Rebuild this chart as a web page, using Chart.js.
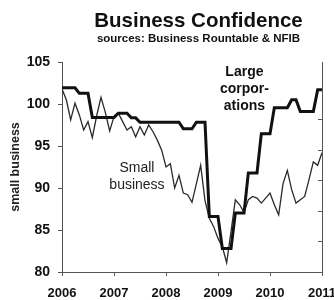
<!DOCTYPE html>
<html>
<head>
<meta charset="utf-8">
<title>Business Confidence</title>
<script src="https://cdn.jsdelivr.net/npm/chart.js@4.4.1/dist/chart.umd.min.js"></script>
<style>
body{margin:0;background:#fff;}
canvas{display:block;}
</style>
</head>
<body>
<canvas id="confChart" width="334" height="300"></canvas>
<script>
// DATA (monthly, Jan 2006 .. Jan 2011)
let yearLabels = ["2006","2007","2008","2009","2010","2011"];

// small business index (left axis)
let smallBusiness = [
101.8,100.5,98.1,100.1,98.7,96.9,97.9,96.0,98.6,100.8,99.0,96.8,
98.5,98.9,97.9,96.9,97.3,96.1,97.3,96.3,97.5,96.7,95.7,94.5,
92.5,92.9,90.0,91.5,89.4,89.2,88.3,90.5,92.7,88.5,86.4,85.4,
84.0,83.0,81.1,84.8,88.6,88.0,87.1,88.6,89.0,88.8,88.2,88.8,
89.4,88.0,86.8,90.5,92.1,89.8,88.2,88.6,89.0,91.0,93.1,92.7,
94.2
];

// large corporations outlook (right axis, unlabelled)
let largeCorps = [
101.1,101.1,101.1,101.1,97.4,97.4,97.4,81.6,81.6,81.6,81.6,81.6,
81.6,84.4,84.4,84.4,81.3,81.3,78.4,78.4,78.4,78.4,78.4,78.4,
78.4,78.4,78.4,78.4,74.1,74.1,74.1,78.4,78.4,78.4,16.5,16.5,
16.5,-4.6,-4.6,-4.6,18.7,18.7,18.7,45.1,45.1,45.1,70.8,70.8,
70.8,87.9,87.9,87.9,87.9,93.2,93.2,85.5,85.5,85.5,85.5,99.7,
99.7
];

let months = smallBusiness.map((v,i)=>i);

const FONT = "'Liberation Sans', Arial, sans-serif";

// TEXTS (title + in-plot labels)
const textPlugin = {
id:"texts",
afterDraw(chart){
let ctx = chart.ctx;
let xs = chart.scales.x;
let ys = chart.scales.y;
ctx.save();
ctx.textAlign = "center";
ctx.textBaseline = "alphabetic";
ctx.fillStyle = "#111";

ctx.font = "bold 20.5px " + FONT;
ctx.fillText("Business Confidence", 198.5, 27);
ctx.font = "bold 11.5px " + FONT;
ctx.fillText("sources: Business Rountable & NFIB", 198.5, 41.5);

// Large corporations label
let lx = xs.getPixelForValue(42.1);
let ly = ys.getPixelForValue(103.3);
ctx.font = "bold 14px " + FONT;
ctx.fillText("Large", lx, ly);
ctx.fillText("corpor-", lx, ly + 16.7);
ctx.fillText("ations", lx, ly + 33.4);

// Small business label
let sx = xs.getPixelForValue(17.3);
let sy = ys.getPixelForValue(91.9);
ctx.fillStyle = "#222";
ctx.font = "14px " + FONT;
ctx.fillText("Small", sx, sy);
ctx.fillText("business", sx, sy + 16.6);
ctx.restore();
}
};

new Chart(document.getElementById("confChart"),{
type:"line",
data:{
labels:months,
datasets:[
{
label:"Large corporations",
data:largeCorps,
yAxisID:"y2",
borderColor:"#111",
borderWidth:3,
pointRadius:0,
tension:0,
borderJoinStyle:"miter"
},
{
label:"Small business",
data:smallBusiness,
yAxisID:"y",
borderColor:"#2a2a2a",
borderWidth:1.3,
pointRadius:0,
tension:0
}
]
},
options:{
responsive:false,
animation:false,
layout:{padding:{top:62,left:0,right:0,bottom:0}},
plugins:{
legend:{display:false},
tooltip:{enabled:false}
},
scales:{
x:{
type:"linear",
min:0,
max:60,
grid:{display:true,drawOnChartArea:false,drawTicks:true,tickLength:4,color:"#555"},
border:{display:true,color:"#555",width:1},
ticks:{
stepSize:12,
autoSkip:false,
maxRotation:0,
padding:10,
color:"#111",
font:{family:FONT,size:13,weight:"bold"},
callback:function(v){ return yearLabels[v/12]; }
},
afterFit:function(scale){
scale.height = 28;
scale.paddingLeft = 0;
scale.paddingRight = 0;
}
},
y:{
position:"left",
min:80,
max:105,
grid:{display:true,drawOnChartArea:false,drawTicks:true,tickLength:4,color:"#555"},
border:{display:true,color:"#555",width:1},
ticks:{
stepSize:5,
padding:8,
color:"#111",
font:{family:FONT,size:14,weight:"bold"}
},
title:{
display:true,
text:"small business",
color:"#222",
padding:{top:8,bottom:0},
font:{family:FONT,size:12.5,weight:"bold"}
},
afterFit:function(scale){ scale.width = 62; }
},
y2:{
position:"right",
min:-20,
max:118,
grid:{display:true,drawOnChartArea:false,drawTicks:true,tickLength:-4,color:"#555"},
border:{display:true,color:"#555",width:1},
ticks:{display:false,stepSize:20,includeBounds:false},
afterFit:function(scale){ scale.width = 12; }
}
}
},
plugins:[textPlugin]
});
</script>
</body>
</html>
